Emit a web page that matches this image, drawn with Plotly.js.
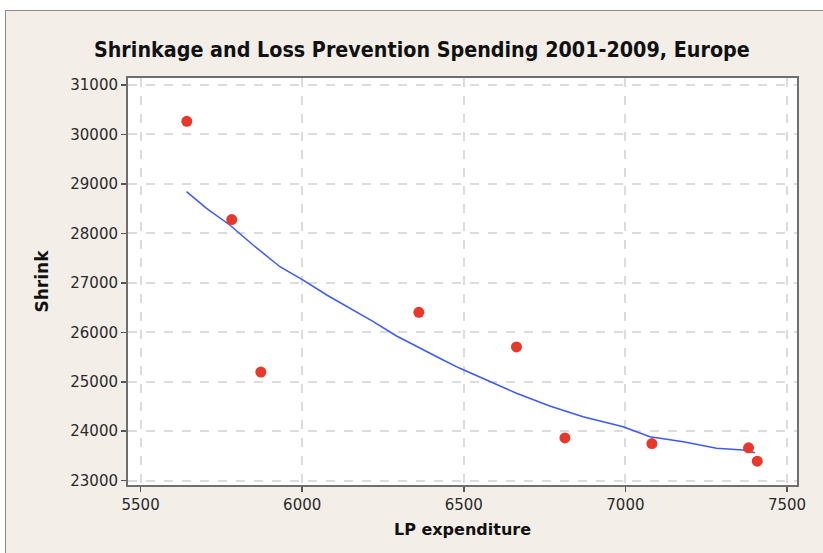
<!DOCTYPE html>
<html>
<head>
<meta charset="utf-8">
<script src="https://cdn.plot.ly/plotly-3.0.1.min.js"></script>
<style>
html,body{margin:0;padding:0;background:#ffffff;}
#wrap{position:absolute;left:5px;top:10px;width:817px;height:542px;border-top:1px solid #8a8a8a;border-left:1px solid #8a8a8a;background:#f3efe8;}
#chart{width:817px;height:542px;}
</style>
</head>
<body>
<div id="wrap"><div id="chart"></div></div>
<script>
// Observed data
const lpExpenditure = [5643, 5782, 5872, 6361, 6663, 6813, 7082, 7381, 7408];
const shrink = [30265, 28280, 25195, 26405, 25705, 23865, 23750, 23665, 23395];

// Smoothed (lowess) fit
const fitX = [5642, 5704, 5776, 5848, 5931, 6003, 6076, 6148, 6158, 6220, 6292, 6364, 6436, 6488, 6560, 6663, 6766, 6869, 6993, 7076, 7179, 7282, 7364, 7401];
const fitY = [28843, 28507, 28169, 27765, 27326, 27057, 26754, 26485, 26451, 26214, 25925, 25676, 25440, 25272, 25070, 24767, 24510, 24294, 24091, 23889, 23788, 23655, 23620, 23566];

const xTicks = [5500, 6000, 6500, 7000, 7500];
const yTicks = [23000, 24000, 25000, 26000, 27000, 28000, 29000, 30000, 31000];

const traces = [
  {
    x: fitX, y: fitY, type: 'scatter', mode: 'lines',
    line: {color: '#3b5bf2', width: 1.5},
    hoverinfo: 'skip', showlegend: false
  },
  {
    x: lpExpenditure, y: shrink, type: 'scatter', mode: 'markers',
    marker: {color: '#e8382b', size: 11},
    showlegend: false
  }
];

const axisCommon = {
  showgrid: true, gridcolor: '#dcdcdc', gridwidth: 2, griddash: 'dash',
  showline: true, linecolor: '#6e6e6e', linewidth: 2, mirror: true,
  ticks: 'outside', ticklen: 5, tickwidth: 1.5, tickcolor: '#555',
  zeroline: false,
  tickfont: {family: 'DejaVu Sans, Verdana, sans-serif', size: 15, color: '#2a2a2a'}
};

const layout = {
  width: 817, height: 542,
  paper_bgcolor: '#f3efe8', plot_bgcolor: '#ffffff',
  margin: {l: 122, r: 26, t: 67, b: 68},
  title: {
    text: '<b>Shrinkage and Loss Prevention Spending 2001-2009, Europe</b>',
    font: {family: 'DejaVu Sans Condensed, DejaVu Sans, sans-serif', size: 21.3, color: '#111'},
    x: 0.509, xanchor: 'center', y: 0.928, yanchor: 'middle'
  },
  xaxis: Object.assign({}, axisCommon, {
    range: [5461, 7531], tickvals: xTicks, ticktext: xTicks.map(String),
    title: {text: '<b>LP expenditure</b>', standoff: 11,
      font: {family: 'DejaVu Sans, Verdana, sans-serif', size: 16, color: '#111'}}
  }),
  yaxis: Object.assign({}, axisCommon, {
    range: [22913, 31141], tickvals: yTicks, ticktext: yTicks.map(String),
    title: {text: '<b>Shrink</b>', standoff: 17,
      font: {family: 'DejaVu Sans, Verdana, sans-serif', size: 17, color: '#111'}}
  })
};

Plotly.newPlot('chart', traces, layout, {displayModeBar: false, staticPlot: true});
</script>
</body>
</html>
